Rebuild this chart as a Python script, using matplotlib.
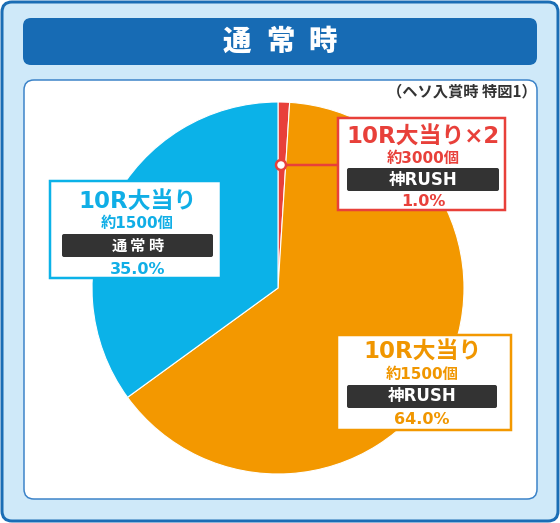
import matplotlib
matplotlib.use("Agg")
import matplotlib.pyplot as plt
from matplotlib.patches import FancyBboxPatch, Circle, Rectangle

plt.rcParams['font.family'] = ['Noto Sans CJK JP', 'DejaVu Sans']
MIX = ['DejaVu Sans', 'Noto Sans CJK JP']

W, H = 560, 523

# ---- data ----
title = "通常時"
note = "（ヘソ入賞時 特図1）"
shares = [1.0, 64.0, 35.0]
slice_colors = ['#e8403a', '#f39800', '#0bb2e8']
label_titles = ["10R大当り×2", "10R大当り", "10R大当り"]
label_payouts = ["約3000個", "約1500個", "約1500個"]
label_modes = ["神RUSH", "神RUSH", "通常時"]
label_text_colors = ['#e8403a', '#f09600', '#10aee6']

fig = plt.figure(figsize=(W / 100, H / 100), dpi=100)
ax = fig.add_axes([0, 0, 1, 1])
ax.set_axis_off()

def Y(y):
    return H - y

def px(v):
    return v * 0.72

def rbox(x0, y0, x1, y1, r, fc, ec='none', lw=0, z=1):
    p = FancyBboxPatch((x0, Y(y1)), x1 - x0, y1 - y0,
                       boxstyle=f"round,pad=0,rounding_size={r}",
                       fc=fc, ec=ec, lw=px(lw), zorder=z)
    ax.add_patch(p)

# frames
rbox(2, 2, 558, 521, 10, '#cfe9f9', '#1a6db5', 3, z=0)
rbox(23, 18, 537, 65, 8, '#176bb4', z=1)
rbox(24, 80, 537, 499, 10, 'white', '#3a82c8', 1.5, z=1)

for ch, cx in zip(title, [237, 280, 323]):
    ax.text(cx, Y(41), ch, color='white', fontsize=20.5, fontweight='heavy',
            ha='center', va='center', zorder=3)

ax.text(537, Y(91), note, color='#333333', fontsize=11, fontweight='bold',
        ha='right', va='center', zorder=3)

# pie
cx, cy, R = 278, 288, 186
wedges, _ = ax.pie(shares, colors=slice_colors, startangle=90, counterclock=False,
                   center=(cx, Y(cy)), radius=R,
                   wedgeprops=dict(edgecolor='white', linewidth=0.8))
for w in wedges:
    w.set_zorder(2)

# leader for the small slice
ax.plot([281, 338], [Y(165), Y(165)], color=slice_colors[0], lw=px(2.5), zorder=4,
        solid_capstyle='butt')
ax.add_patch(Circle((281, Y(165)), 5, fc='white', ec=slice_colors[0], lw=px(2.5), zorder=5))

# label boxes: (x0,y0,x1,y1), title y, payout y, bar (x0,y0,x1,y1), pct y
boxes = [
    ((338, 118, 505, 210), 137, 158, (347, 168, 499, 191), 202),
    ((337, 335, 511, 430), 352, 374, (347, 385, 497, 408), 419),
    ((50, 181, 221, 278), 202, 223, (62, 234, 213, 257), 269),
]
edge_cols = [slice_colors[0], slice_colors[1], slice_colors[2]]
for i, (bx, ty, py, bar, pcty) in enumerate(boxes):
    x0, y0, x1, y1 = bx
    ax.add_patch(Rectangle((x0, Y(y1)), x1 - x0, y1 - y0, fc='white',
                           ec=edge_cols[i], lw=px(2.5), zorder=4))
    mx = (bar[0] + bar[2]) / 2
    col = label_text_colors[i]
    ax.text(mx, Y(ty), label_titles[i], color=col, fontsize=16.5, fontweight='bold',
            family=MIX, ha='center', va='center', zorder=6)
    ax.text(mx, Y(py), label_payouts[i], color=col, fontsize=11, fontweight='bold',
            family=MIX, ha='center', va='center', zorder=6)
    rbox(bar[0], bar[1], bar[2], bar[3], 2, '#333333', z=5)
    by = Y((bar[1] + bar[3]) / 2)
    mode = label_modes[i]
    if mode.isascii() or any(c.isascii() for c in mode):
        ax.text(mx, by, mode, color='white', fontsize=12, fontweight='bold',
                family=MIX, ha='center', va='center', zorder=6)
    else:
        n = len(mode)
        for k, ch in enumerate(mode):
            ax.text(mx + (k - (n - 1) / 2) * 18.5, by, ch, color='white', fontsize=11,
                    fontweight='bold', ha='center', va='center', zorder=6)
    ax.text(mx, Y(pcty), f"{shares[i]:.1f}%", color=col, fontsize=11.5, fontweight='bold',
            family=MIX, ha='center', va='center', zorder=6)

ax.set_xlim(0, W)
ax.set_ylim(0, H)
ax.set_aspect('auto')
fig.savefig("out.png", dpi=100)
